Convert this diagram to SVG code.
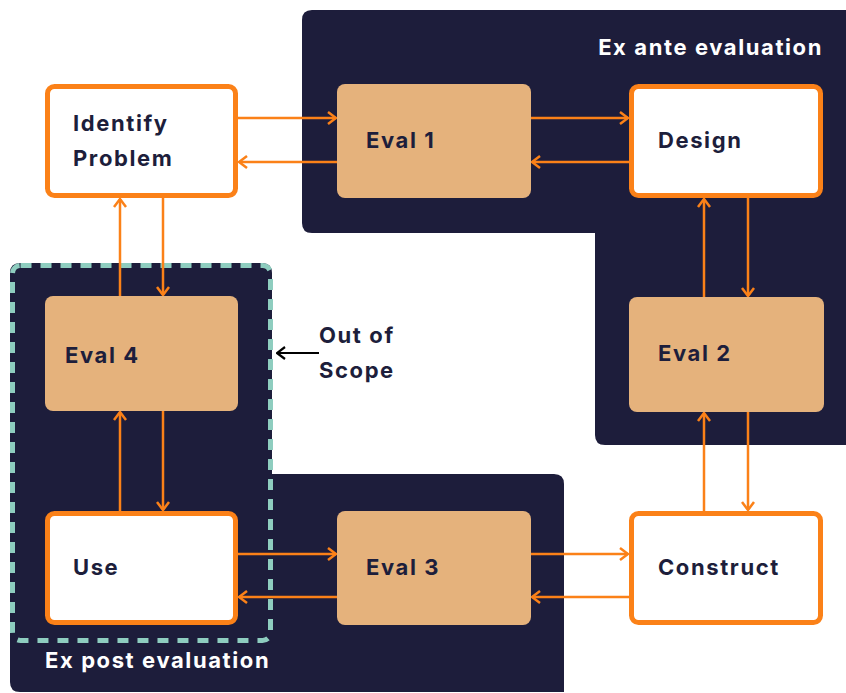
<svg xmlns="http://www.w3.org/2000/svg" width="846" height="693" viewBox="0 0 846 693">
<defs>
<style>
.region{fill:#1d1d3b}
.box{fill:#fff;stroke:#fb8118;stroke-width:5}
.eval{fill:#e5b27c}
.lbl{font-family:Inter,"Noto Sans",sans-serif;font-weight:700;font-size:22px;letter-spacing:1.6px;fill:#1d1e3b}
.rlbl{font-family:Inter,"Noto Sans",sans-serif;font-weight:700;font-size:22px;letter-spacing:1.6px;fill:#fff}
.c{stroke:#fb8118;stroke-width:2.5;fill:none}
</style>
<marker id="ah" viewBox="0 0 10 14" refX="9" refY="7" markerWidth="10" markerHeight="14" markerUnits="userSpaceOnUse" orient="auto">
<path d="M1,1 L9,7 L1,13" fill="none" stroke="#fb8118" stroke-width="2.5"/>
</marker>
<marker id="bh" viewBox="0 0 10 14" refX="9" refY="7" markerWidth="10" markerHeight="14" markerUnits="userSpaceOnUse" orient="auto">
<path d="M1,1 L9,7 L1,13" fill="none" stroke="#000" stroke-width="2.2"/>
</marker>
</defs>
<rect width="846" height="693" fill="#fff"/>
<g id="ex-ante">
<path class="region" d="M312,10 H846 V445 H605 Q595,445 595,435 V233 H312 Q302,233 302,223 V20 Q302,10 312,10 Z"/>
<text class="rlbl" x="823" y="55" text-anchor="end">Ex ante evaluation</text>
</g>
<g id="ex-post">
<path class="region" d="M20,263 H262 Q272,263 272,273 V474 H554 Q564,474 564,484 V692 H20 Q10,692 10,682 V273 Q10,263 20,263 Z"/>
<rect x="12.5" y="265.5" width="258" height="375" rx="8" fill="none" stroke="#8ecdbf" stroke-width="5" stroke-dasharray="11 9"/>
<text class="rlbl" x="45" y="668">Ex post evaluation</text>
</g>
<g id="connectors">
<line class="c" x1="238" y1="118" x2="336" y2="118" marker-end="url(#ah)"/>
<line class="c" x1="337" y1="162" x2="239" y2="162" marker-end="url(#ah)"/>
<line class="c" x1="531" y1="118" x2="628" y2="118" marker-end="url(#ah)"/>
<line class="c" x1="629" y1="162" x2="532" y2="162" marker-end="url(#ah)"/>
<line class="c" x1="748" y1="198" x2="748" y2="296" marker-end="url(#ah)"/>
<line class="c" x1="704" y1="297" x2="704" y2="199" marker-end="url(#ah)"/>
<line class="c" x1="748" y1="412" x2="748" y2="510" marker-end="url(#ah)"/>
<line class="c" x1="704" y1="511" x2="704" y2="413" marker-end="url(#ah)"/>
<line class="c" x1="531" y1="554" x2="628" y2="554" marker-end="url(#ah)"/>
<line class="c" x1="629" y1="597" x2="532" y2="597" marker-end="url(#ah)"/>
<line class="c" x1="238" y1="554" x2="336" y2="554" marker-end="url(#ah)"/>
<line class="c" x1="337" y1="597" x2="239" y2="597" marker-end="url(#ah)"/>
<line class="c" x1="120" y1="511" x2="120" y2="412" marker-end="url(#ah)"/>
<line class="c" x1="163" y1="411" x2="163" y2="510" marker-end="url(#ah)"/>
<line class="c" x1="120" y1="296" x2="120" y2="199" marker-end="url(#ah)"/>
<line class="c" x1="163" y1="198" x2="163" y2="295" marker-end="url(#ah)"/>
<line x1="319" y1="353" x2="277" y2="353" stroke="#000" stroke-width="2.2" marker-end="url(#bh)"/>
</g>
<g id="identify-problem">
<rect class="box" x="47.5" y="86.5" width="188" height="109" rx="7"/>
<text class="lbl" x="73" y="131">Identify</text>
<text class="lbl" x="73" y="166">Problem</text>
</g>
<g id="eval-1">
<rect class="eval" x="337" y="84" width="194" height="114" rx="8"/>
<text class="lbl" x="366" y="148">Eval 1</text>
</g>
<g id="design">
<rect class="box" x="631.5" y="86.5" width="189" height="109" rx="7"/>
<text class="lbl" x="658" y="148">Design</text>
</g>
<g id="eval-2">
<rect class="eval" x="629" y="297" width="195" height="115" rx="8"/>
<text class="lbl" x="658" y="361">Eval 2</text>
</g>
<g id="construct">
<rect class="box" x="631.5" y="513.5" width="189" height="109" rx="7"/>
<text class="lbl" x="658" y="575">Construct</text>
</g>
<g id="eval-3">
<rect class="eval" x="337" y="511" width="194" height="114" rx="8"/>
<text class="lbl" x="366" y="575">Eval 3</text>
</g>
<g id="use">
<rect class="box" x="47.5" y="513.5" width="188" height="109" rx="7"/>
<text class="lbl" x="73" y="575">Use</text>
</g>
<g id="eval-4">
<rect class="eval" x="45" y="296" width="193" height="115" rx="8"/>
<text class="lbl" x="65" y="363">Eval 4</text>
</g>
<g id="out-of-scope">
<text class="lbl" x="319" y="343">Out of</text>
<text class="lbl" x="319" y="378">Scope</text>
</g>
</svg>
